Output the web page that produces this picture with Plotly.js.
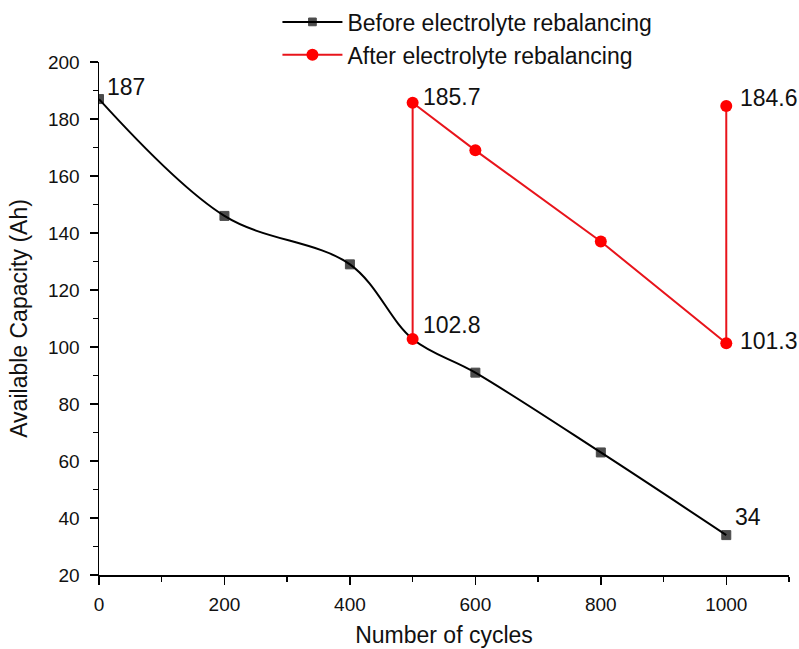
<!DOCTYPE html>
<html>
<head>
<meta charset="utf-8">
<script src="https://cdn.plot.ly/plotly-3.0.1.min.js"></script>
<style>html,body{margin:0;padding:0;background:#fff;}#chart{width:799px;height:649px;}</style>
</head>
<body>
<div id="chart"></div>
<script>
// Data
var beforeCycles = [0, 200, 400, 500, 600, 800, 1000];
var beforeCapacity = [187, 146, 129, 102.8, 91, 63, 34];
var afterCycles = [500, 500, 600, 800, 1000, 1000];
var afterCapacity = [102.8, 185.7, 169, 137, 101.3, 184.6];
var labelCycles = [0, 500, 500, 1000, 1000, 1000];
var labelValues = [187, 185.7, 102.8, 184.6, 101.3, 34];
var labelTexts = ['187', '185.7', '102.8', '184.6', '101.3', '34'];
var xTicks = [0, 200, 400, 600, 800, 1000];
var yTicks = [20, 40, 60, 80, 100, 120, 140, 160, 180, 200];

var FONT = 'Liberation Sans, Arial, sans-serif';
var TXT = '#111111';

var traces = [
  {
    x: beforeCycles, y: beforeCapacity,
    type: 'scatter', mode: 'lines+markers',
    name: 'Before electrolyte rebalancing',
    line: {color: '#000000', width: 2, shape: 'spline', smoothing: 1},
    marker: {symbol: 'square', color: '#000000', line: {color: '#000000', width: 1},
             size: beforeCycles.map(function (c) { return c === 500 ? 0 : 9; })}
  },
  {
    x: afterCycles, y: afterCapacity,
    type: 'scatter', mode: 'lines+markers',
    name: 'After electrolyte rebalancing',
    line: {color: '#e8141b', width: 2},
    marker: {symbol: 'circle', color: '#ff0000', size: 12, line: {width: 0}}
  }
];

// [right shift, upward shift] in px for each value label
var offsets = [
  [6, 12], [8, 6], [8, 14], [12, 8], [12, 2], [7, 18]
];
var annotations = labelTexts.map(function (t, i) {
  return {
    x: labelCycles[i], y: labelValues[i], xref: 'x', yref: 'y',
    text: t, showarrow: false, xanchor: 'left', yanchor: 'middle',
    xshift: offsets[i][0], yshift: offsets[i][1],
    font: {family: FONT, size: 23, color: TXT}
  };
});

var layout = {
  width: 799, height: 649,
  margin: {l: 99, r: 10, t: 62, b: 74, autoexpand: false},
  paper_bgcolor: '#ffffff', plot_bgcolor: '#ffffff',
  showlegend: true,
  legend: {
    x: 0.2586, y: 1.12, xanchor: 'left', yanchor: 'top',
    bgcolor: 'rgba(0,0,0,0)', font: {family: FONT, size: 23, color: TXT},
    tracegroupgap: 0, itemwidth: 60
  },
  xaxis: {
    range: [0, 1100], tickvals: xTicks, ticktext: xTicks.map(String),
    showgrid: false, zeroline: false, showline: true, linecolor: '#000', linewidth: 1.5,
    ticks: 'outside', ticklen: 8, tickwidth: 1.5, tickcolor: '#000',
    minor: {dtick: 100, tick0: 100, ticks: 'outside', ticklen: 5, tickwidth: 1.5, tickcolor: '#000', showgrid: false},
    tickfont: {family: FONT, size: 19, color: TXT}, ticklabelstandoff: 4,
    automargin: true,
    title: {text: 'Number of cycles', font: {family: FONT, size: 23, color: TXT}, standoff: 12}
  },
  yaxis: {
    range: [20, 200], tickvals: yTicks, ticktext: yTicks.map(String),
    showgrid: false, zeroline: false, showline: true, linecolor: '#000', linewidth: 1.5,
    ticks: 'outside', ticklen: 8, tickwidth: 1.5, tickcolor: '#000',
    minor: {dtick: 10, tick0: 10, ticks: 'outside', ticklen: 5, tickwidth: 1.5, tickcolor: '#000', showgrid: false},
    tickfont: {family: FONT, size: 19, color: TXT}, ticklabelstandoff: 6,
    automargin: false,
    title: {text: 'Available Capacity (Ah)', font: {family: FONT, size: 23, color: TXT}, standoff: 14}
  },
  annotations: annotations
};

Plotly.newPlot('chart', traces, layout, {staticPlot: true, displayModeBar: false});
</script>
</body>
</html>
